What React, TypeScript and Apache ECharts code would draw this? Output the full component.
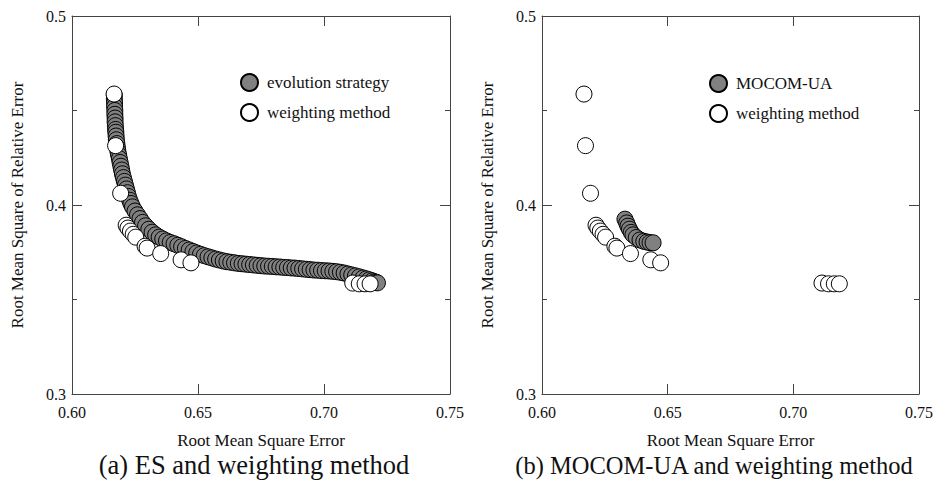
import React, { useEffect, useRef } from "react";
import * as echarts from "echarts";

// ---- Data ----
const X_MIN = 0.6;
const X_MAX = 0.75;
const X_STEP = 0.05;
const Y_MIN = 0.3;
const Y_MAX = 0.5;
const Y_STEP = 0.1;

const xAxisTitle = "Root Mean Square Error";
const yAxisTitle = "Root Mean Square of Relative Error";
const captionA = "(a) ES and weighting method";
const captionB = "(b) MOCOM-UA and weighting method";

// evolution strategy Pareto front (RMSE, RMSRE)
const esPoints: [number, number][] = [
  [0.6168, 0.458], [0.6168, 0.456], [0.6169, 0.454], [0.6169, 0.452], [0.617, 0.45],
  [0.617, 0.448], [0.6171, 0.446], [0.6171, 0.444], [0.6172, 0.442], [0.6173, 0.44],
  [0.6174, 0.4385], [0.6175, 0.4365], [0.6176, 0.4345], [0.6178, 0.4325], [0.618, 0.4305],
  [0.6182, 0.4285], [0.6185, 0.4265], [0.6188, 0.4245], [0.6191, 0.4225], [0.6194, 0.4205],
  [0.6197, 0.4185], [0.62, 0.4165], [0.6204, 0.4145], [0.6208, 0.4125], [0.6212, 0.4105],
  [0.6216, 0.4085], [0.622, 0.4065], [0.6224, 0.4045], [0.6229, 0.4025], [0.6234, 0.4008],
  [0.624, 0.399], [0.625, 0.3968], [0.626, 0.3948], [0.627, 0.3928], [0.628, 0.3908],
  [0.6292, 0.389], [0.6305, 0.3872], [0.6318, 0.3856], [0.6332, 0.3842], [0.6346, 0.383],
  [0.636, 0.382], [0.6375, 0.381], [0.639, 0.3802], [0.6405, 0.3795], [0.642, 0.3787],
  [0.6435, 0.3779], [0.645, 0.377], [0.6465, 0.3762], [0.648, 0.3754], [0.6495, 0.3746],
  [0.651, 0.3739], [0.6525, 0.3732], [0.654, 0.3726], [0.6555, 0.372], [0.657, 0.3714],
  [0.6585, 0.3709], [0.66, 0.3704], [0.6615, 0.37], [0.663, 0.3697], [0.6645, 0.3694],
  [0.666, 0.3691], [0.6675, 0.3689], [0.669, 0.3687], [0.6705, 0.3685], [0.672, 0.3683],
  [0.6735, 0.3681], [0.675, 0.3679], [0.6765, 0.3677], [0.678, 0.3676], [0.6795, 0.3675],
  [0.681, 0.3673], [0.6825, 0.3672], [0.684, 0.367], [0.6855, 0.3669], [0.687, 0.3667],
  [0.6885, 0.3666], [0.69, 0.3664], [0.6915, 0.3662], [0.693, 0.366], [0.6945, 0.3658],
  [0.696, 0.3656], [0.6975, 0.3655], [0.699, 0.3653], [0.7005, 0.3652], [0.702, 0.3651],
  [0.7035, 0.3649], [0.705, 0.3647], [0.7065, 0.3644], [0.708, 0.364], [0.7095, 0.3635],
  [0.711, 0.363], [0.7125, 0.3625], [0.714, 0.362], [0.7155, 0.3614], [0.7168, 0.3609],
  [0.718, 0.3604], [0.7191, 0.3599], [0.72, 0.3594], [0.7207, 0.3591], [0.7212, 0.3588],
];

// weighting method results (same in both panels)
const weightingPoints: [number, number][] = [
  [0.6167, 0.4587], [0.6173, 0.4314], [0.6193, 0.4062], [0.6215, 0.3893],
  [0.6222, 0.3878], [0.6232, 0.3862], [0.6243, 0.3845], [0.6253, 0.383],
  [0.629, 0.3782], [0.6298, 0.3772], [0.6352, 0.3743], [0.6433, 0.371],
  [0.6472, 0.3694], [0.7114, 0.3587], [0.714, 0.3583], [0.7163, 0.3583],
  [0.7183, 0.3583],
];

// MOCOM-UA results
const mocomPoints: [number, number][] = [
  [0.633, 0.3925], [0.6337, 0.3905], [0.6342, 0.3888], [0.6348, 0.3872],
  [0.6355, 0.3855], [0.6362, 0.3842], [0.6375, 0.3828], [0.639, 0.3815],
  [0.6405, 0.3808], [0.6418, 0.3804], [0.643, 0.3801], [0.6442, 0.38],
];

const FONT = "Liberation Serif";
const AXIS_COLOR = "#444";
const TEXT_COLOR = "#111";

function buildAxes(g: number) {
  const lineStyle = { color: AXIS_COLOR, width: 1 };
  const xAxes = [
    {
      gridIndex: g,
      type: "value",
      min: X_MIN,
      max: X_MAX,
      interval: X_STEP,
      position: "bottom",
      axisLine: { show: true, onZero: false, lineStyle },
      axisTick: { show: true, inside: true, length: 10, lineStyle },
      axisLabel: {
        formatter: (v: number) => v.toFixed(2),
        fontFamily: FONT,
        fontSize: 16,
        color: TEXT_COLOR,
        margin: 10,
      },
      splitLine: { show: false },
      name: xAxisTitle,
      nameLocation: "middle",
      nameGap: 38,
      nameTextStyle: { fontFamily: FONT, fontSize: 17, color: TEXT_COLOR },
    },
    {
      gridIndex: g,
      type: "value",
      min: X_MIN,
      max: X_MAX,
      interval: X_STEP,
      position: "top",
      axisLine: { show: true, onZero: false, lineStyle },
      axisTick: { show: true, inside: true, length: 10, lineStyle },
      axisLabel: { show: false },
      splitLine: { show: false },
    },
  ];
  const yAxes = [
    {
      gridIndex: g,
      type: "value",
      min: Y_MIN,
      max: Y_MAX,
      interval: Y_STEP,
      position: "left",
      axisLine: { show: true, onZero: false, lineStyle },
      axisTick: { show: true, inside: true, length: 10, lineStyle },
      minorTick: { show: true, splitNumber: 2, length: 5, lineStyle },
      axisLabel: {
        formatter: (v: number) => v.toFixed(1),
        fontFamily: FONT,
        fontSize: 16,
        color: TEXT_COLOR,
        margin: 6,
      },
      splitLine: { show: false },
      name: yAxisTitle,
      nameLocation: "middle",
      nameGap: 46,
      nameRotate: 90,
      nameTextStyle: { fontFamily: FONT, fontSize: 17, color: TEXT_COLOR },
    },
    {
      gridIndex: g,
      type: "value",
      min: Y_MIN,
      max: Y_MAX,
      interval: Y_STEP,
      position: "right",
      axisLine: { show: true, onZero: false, lineStyle },
      axisTick: { show: true, inside: true, length: 10, lineStyle },
      minorTick: { show: true, splitNumber: 2, length: 5, lineStyle },
      axisLabel: { show: false },
      splitLine: { show: false },
    },
  ];
  return { xAxes, yAxes };
}

const grayStyle = { color: "#808080", borderColor: "#000", borderWidth: 1, opacity: 1 };
const whiteStyle = { color: "#ffffff", borderColor: "#000", borderWidth: 1, opacity: 1 };

export default function App() {
  const ref = useRef<HTMLDivElement>(null);
  useEffect(() => {
    if (!ref.current) return;
    const chart = echarts.init(ref.current, undefined, { renderer: "svg" });
    const a = buildAxes(0);
    const b = buildAxes(1);
    const legendText = { fontFamily: FONT, fontSize: 17, color: TEXT_COLOR, padding: [0, 0, 0, 4] };
    chart.setOption({
      animation: false,
      backgroundColor: "#ffffff",
      grid: [
        { left: 72, top: 16, width: 378, height: 378 },
        { left: 542, top: 16, width: 378, height: 378 },
      ],
      xAxis: [...a.xAxes, ...b.xAxes],
      yAxis: [...a.yAxes, ...b.yAxes],
      legend: [
        {
          data: ["evolution strategy", "weighting method"],
          left: 235,
          top: 68,
          orient: "vertical",
          icon: "circle",
          itemWidth: 17,
          itemHeight: 17,
          itemGap: 11,
          textStyle: legendText,
        },
        {
          data: ["MOCOM-UA", "weighting method"],
          left: 704,
          top: 69,
          orient: "vertical",
          icon: "circle",
          itemWidth: 17,
          itemHeight: 17,
          itemGap: 11,
          textStyle: legendText,
        },
      ],
      series: [
        {
          name: "evolution strategy",
          type: "scatter",
          xAxisIndex: 0,
          yAxisIndex: 0,
          data: esPoints,
          symbol: "circle",
          symbolSize: 16,
          itemStyle: grayStyle,
        },
        {
          name: "weighting method",
          type: "scatter",
          xAxisIndex: 0,
          yAxisIndex: 0,
          data: weightingPoints,
          symbol: "circle",
          symbolSize: 16,
          itemStyle: whiteStyle,
        },
        {
          name: "MOCOM-UA",
          type: "scatter",
          xAxisIndex: 2,
          yAxisIndex: 2,
          data: mocomPoints,
          symbol: "circle",
          symbolSize: 16,
          itemStyle: grayStyle,
        },
        {
          name: "weighting method",
          type: "scatter",
          xAxisIndex: 2,
          yAxisIndex: 2,
          data: weightingPoints,
          symbol: "circle",
          symbolSize: 16,
          itemStyle: whiteStyle,
        },
      ],
      graphic: [
        {
          type: "text",
          x: 254,
          y: 465,
          style: {
            text: captionA,
            fontFamily: FONT,
            fontSize: 26.5,
            fill: TEXT_COLOR,
            align: "center",
            verticalAlign: "middle",
          },
        },
        {
          type: "text",
          x: 714,
          y: 465,
          style: {
            text: captionB,
            fontFamily: FONT,
            fontSize: 24.5,
            fill: TEXT_COLOR,
            align: "center",
            verticalAlign: "middle",
          },
        },
      ],
    });
    return () => chart.dispose();
  }, []);
  return (
    <div
      ref={ref}
      style={{ position: "absolute", left: 0, top: 0, width: 936, height: 483, background: "#fff" }}
    />
  );
}
